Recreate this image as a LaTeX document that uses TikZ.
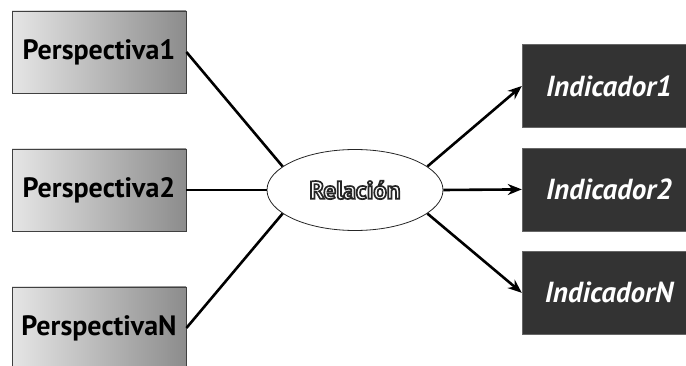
\documentclass[tikz,border=0pt]{standalone}
\usepackage{fontspec}
\setmainfont{PT Sans}
\usetikzlibrary{positioning, arrows.meta, shapes.geometric}

\newcommand{\hollowtext}[1]{\textcolor{white}{\special{pdf:literal 0.15 G 1.7 w 2 Tr}#1\special{pdf:literal 0 Tr}}}

\tikzset{
  persp/.style={draw=black!75, line width=0.8pt, left color=black!10,
    right color=black!45, minimum width=174pt, minimum height=82pt,
    font=\fontsize{28}{32}\selectfont\bfseries},
  indic/.style={draw=black!60, fill=black!80, text=white,
    minimum width=174pt, minimum height=83pt,
    font=\fontsize{29}{32}\selectfont\bfseries\itshape},
  rel/.style={ellipse, draw=black!85, line width=0.8pt, fill=white,
    minimum width=176pt, minimum height=81pt,
    font=\fontsize{25}{28}\selectfont\bfseries},
  link/.style={line width=2.6pt},
  flow/.style={line width=2.6pt, -{Stealth[length=14pt,width=11pt]}}
}

\begin{document}
\begin{tikzpicture}[x=1pt, y=-1pt]
\useasboundingbox (0,0) rectangle (686,366);
\node[persp] (p1) at (99,52) {Perspectiva1};
\node[persp] (p2) at (99,190) {Perspectiva2};
\node[persp] (pn) at (99,328) {PerspectivaN};
\node[rel] (rel) at (355,190) {\hollowtext{Relación}};
\node[indic] (i1) at (609,86) {Indicador1};
\node[indic, below=20pt of i1] (i2) {Indicador2};
\node[indic, below=20pt of i2] (in) {IndicadorN};
\draw[link] (p1.east) -- (rel.162);
\draw[link] (p2.east) -- (rel.west);
\draw[link] (pn.east) -- (rel.198);
\draw[flow] (rel.18) -- (i1.west);
\draw[flow] (rel.east) -- (i2.west);
\draw[flow] (rel.342) -- (in.west);
\end{tikzpicture}
\end{document}
